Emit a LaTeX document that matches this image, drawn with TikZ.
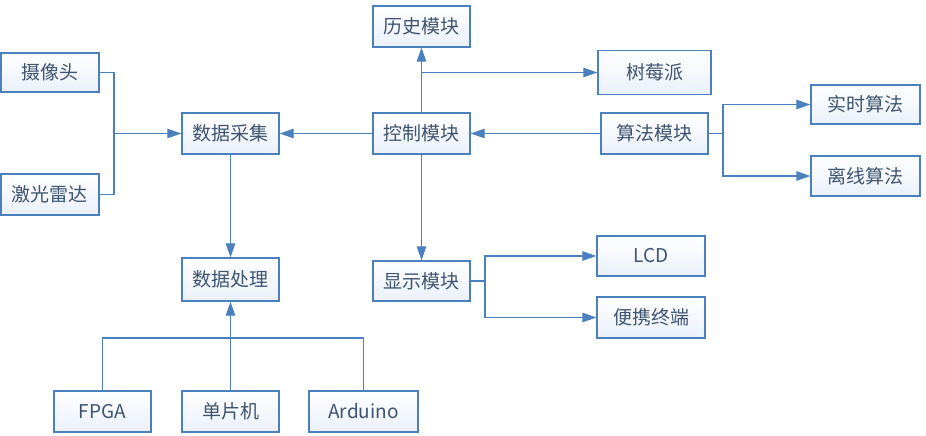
\documentclass[tikz,border=0pt]{standalone}
\usepackage{fontspec}
\setmainfont{Noto Sans CJK SC}
\usetikzlibrary{arrows.meta}
\definecolor{lineblue}{RGB}{74,128,190}
\definecolor{txt}{RGB}{62,84,112}
\definecolor{fillblue}{RGB}{234,240,250}
\tikzset{
  box/.style={draw=lineblue, line width=1.3pt, shading angle=45, shading=axis,
    bottom color=fillblue, top color=white,
    text=txt, font=\fontsize{19}{22}\selectfont, inner sep=0pt},
  conn/.style={draw=lineblue, line width=1.1pt},
  arr/.style={conn, -{Triangle[length=14pt,width=9.5pt]}},
}
\begin{document}
\begin{tikzpicture}[x=1pt,y=-1pt]
\useasboundingbox (0,0) rectangle (926,436);
% nodes
\node[box, minimum width=98pt, minimum height=39pt] (cam) at (50,72.5) {摄像头};
\node[box, minimum width=98pt, minimum height=41pt] (lidar) at (50,194.5) {激光雷达};
\node[box, minimum width=97pt, minimum height=41pt] (collect) at (230.5,133.5) {数据采集};
\node[box, minimum width=97pt, minimum height=43pt] (process) at (230.5,279.5) {数据处理};
\node[box, minimum width=97pt, minimum height=41pt] (ctrl) at (421.5,133.5) {控制模块};
\node[box, minimum width=97pt, minimum height=41pt] (hist) at (421.5,26.5) {历史模块};
\node[box, minimum width=113pt, minimum height=44pt] (pi) at (654.5,72.5) {树莓派};
\node[box, minimum width=107pt, minimum height=41pt] (algo) at (654.5,133.5) {算法模块};
\node[box, minimum width=109pt, minimum height=39pt] (rt) at (865.5,104.5) {实时算法};
\node[box, minimum width=109pt, minimum height=40pt] (off) at (865.5,176) {离线算法};
\node[box, minimum width=97pt, minimum height=40pt] (disp) at (421.5,281) {显示模块};
\node[box, minimum width=108pt, minimum height=40pt] (lcd) at (651,256) {LCD};
\node[box, minimum width=108pt, minimum height=41pt] (port) at (651,317.5) {便携终端};
\node[box, minimum width=97pt, minimum height=41pt] (fpga) at (102.5,411.5) {FPGA};
\node[box, minimum width=97pt, minimum height=41pt] (mcu) at (230.5,411.5) {单片机};
\node[box, minimum width=109pt, minimum height=41pt] (ard) at (363.5,411.5) {Arduino};
% junctions
\coordinate (j1) at (114,133.5);
\coordinate (j2) at (723,133.5);
\coordinate (j3) at (485,281);
\coordinate (bus) at (230.5,338);
% connectors
\draw[conn] (cam.east) -| (j1);
\draw[conn] (lidar.east) -| (j1);
\draw[arr] (j1) -- (collect.west);
\draw[arr] (ctrl.west) -- (collect.east);
\draw[arr] (algo.west) -- (ctrl.east);
\draw[arr] (ctrl.north) -- (hist.south);
\draw[arr] (ctrl.north |- pi.west) -- (pi.west);
\draw[arr] (ctrl.south) -- (disp.north);
\draw[arr] (collect.south) -- (process.north);
\draw[conn] (algo.east) -- (j2);
\draw[arr] (j2) |- (rt.west);
\draw[arr] (j2) |- (off.west);
\draw[conn] (disp.east) -- (j3);
\draw[arr] (j3) |- (lcd.west);
\draw[arr] (j3) |- (port.west);
\draw[conn] (fpga.north) -- (fpga.north |- bus) -- (ard.north |- bus) -- (ard.north);
\draw[arr] (mcu.north) -- (process.south);
\end{tikzpicture}
\end{document}
